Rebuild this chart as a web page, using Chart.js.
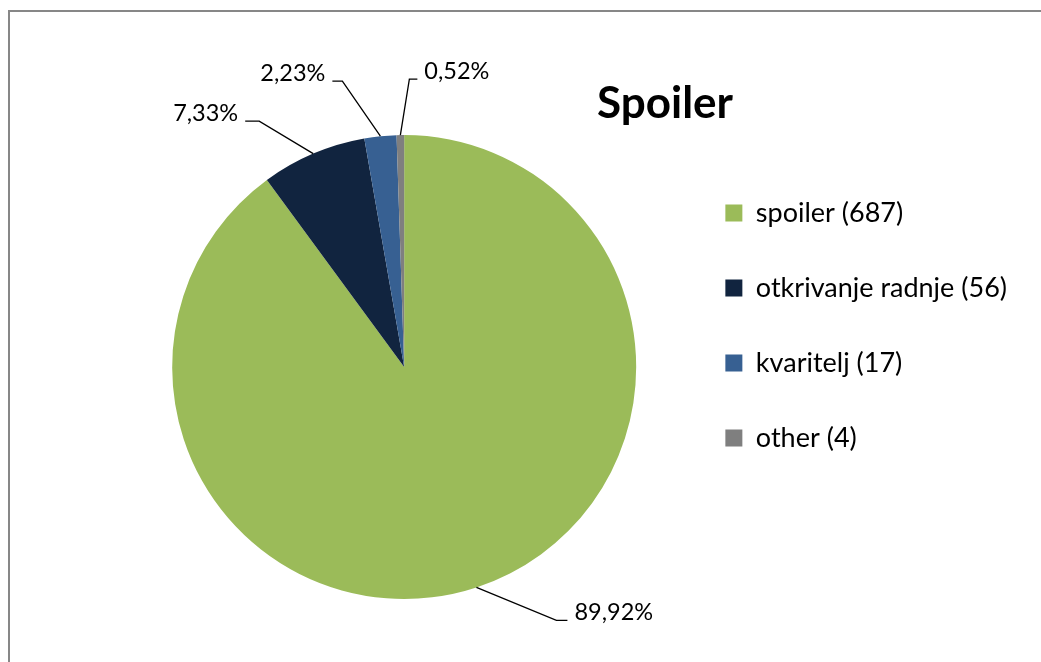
<!DOCTYPE html>
<html>
<head>
<meta charset="utf-8">
<script src="https://cdn.jsdelivr.net/npm/chart.js@4/dist/chart.umd.min.js"></script>
<style>
  html, body { margin: 0; padding: 0; background: #fff; overflow: hidden; }
  #frame { position: absolute; left: 8px; top: 10px; width: 1100px; height: 700px; border: 2px solid #878787; }
  #wrap { position: absolute; left: 0; top: 0; width: 1041px; height: 662px; }
</style>
</head>
<body>
<div id="frame"></div>
<div id="wrap"><canvas id="myChart" width="1041" height="662"></canvas></div>
<script>
// data
const categories = ['spoiler', 'otkrivanje radnje', 'kvaritelj', 'other'];
const counts = [687, 56, 17, 4];
const colors = ['#9BBB59', '#11243F', '#376092', '#7F7F7F'];
const chartTitle = 'Spoiler';

const FONT = 'Lato, "Open Sans", sans-serif';

// percentage labels with elbow leader lines, plus the title
const leaderPlugin = {
  id: 'leaders',
  afterDatasetsDraw(chart, args, opts) {
    const ctx = chart.ctx;
    const meta = chart.getDatasetMeta(0);
    const total = counts.reduce((a, b) => a + b, 0);
    ctx.save();
    ctx.strokeStyle = '#000';
    ctx.lineWidth = 1.3;
    ctx.fillStyle = '#000';
    ctx.font = '23.5px ' + FONT;
    ctx.textBaseline = 'alphabetic';
    meta.data.forEach((arc, i) => {
      const p = arc.getProps(['x', 'y', 'startAngle', 'endAngle', 'outerRadius'], true);
      const mid = (p.startAngle + p.endAngle) / 2;
      const ax = p.x + Math.cos(mid) * p.outerRadius;
      const ay = p.y + Math.sin(mid) * p.outerRadius;
      const o = opts.offsets[i];
      const ex = ax + o[0], ey = ay + o[1];
      const hx = ex + o[2];
      ctx.beginPath();
      ctx.moveTo(ax, ay);
      ctx.lineTo(ex, ey);
      ctx.lineTo(hx, ey);
      ctx.stroke();
      const txt = (counts[i] / total * 100).toFixed(2).replace('.', ',') + '%';
      ctx.textAlign = o[2] < 0 ? 'right' : 'left';
      ctx.fillText(txt, hx + (o[2] < 0 ? -7 : 7), ey);
    });
    ctx.font = 'bold 44px ' + FONT;
    ctx.textAlign = 'center';
    ctx.fillText(chartTitle, 665, 118);
    ctx.restore();
  }
};

const ctx = document.getElementById('myChart').getContext('2d');
const chart = new Chart(ctx, {
  type: 'pie',
  data: {
    labels: categories.map((c, i) => c + ' (' + counts[i] + ')'),
    datasets: [{
      data: counts,
      backgroundColor: colors,
      borderWidth: 0
    }]
  },
  options: {
    responsive: false,
    animation: false,
    events: [],
    layout: { padding: { top: 135, bottom: 63, left: 131, right: 24 } },
    plugins: {
      legend: {
        position: 'right',
        align: 'start',
        title: { display: true, text: ' ', font: { size: 10 }, padding: { top: 4.5, bottom: 0 } },
        labels: {
          boxWidth: 17,
          boxHeight: 17,
          padding: 48,
          color: '#000',
          font: { family: FONT, size: 27 }
        }
      },
      tooltip: { enabled: false },
      leaders: {
        offsets: [[80, 33, 11], [-54, -32.5, -14], [-38, -55, -10], [9, -56, 8]]
      }
    }
  },
  plugins: [leaderPlugin]
});
</script>
</body>
</html>
